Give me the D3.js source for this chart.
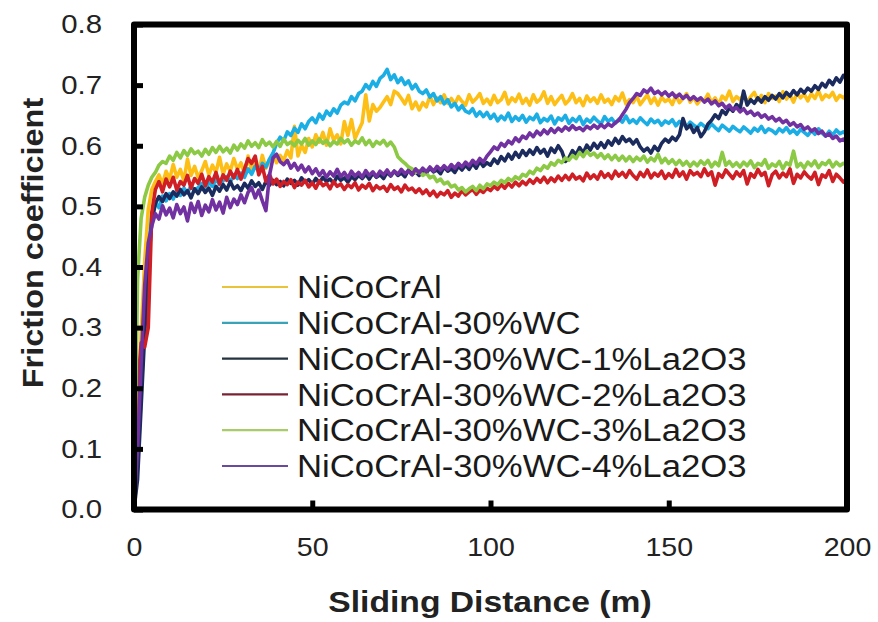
<!DOCTYPE html>
<html>
<head>
<meta charset="utf-8">
<script src="https://cdn.jsdelivr.net/npm/d3@7"></script>
<style>
  html, body { margin: 0; padding: 0; background: #fff; }
  svg { display: block; font-family: "Liberation Sans", Arial, sans-serif; }
</style>
</head>
<body>
<svg id="chart" width="878" height="622"></svg>
<script>
// Sliding distance (m), sampled every metre
const distance = [
  0,1,2,3,4,5,6,7,8,9,10,11,12,13,14,15,16,17,18,19,20,21,22,23,24,25,26,27,28,29,
  30,31,32,33,34,35,36,37,38,39,40,41,42,43,44,45,46,47,48,49,50,51,52,53,54,55,56,57,58,59,
  60,61,62,63,64,65,66,67,68,69,70,71,72,73,74,75,76,77,78,79,80,81,82,83,84,85,86,87,88,89,
  90,91,92,93,94,95,96,97,98,99,100,101,102,103,104,105,106,107,108,109,110,111,112,113,114,115,116,117,118,119,
  120,121,122,123,124,125,126,127,128,129,130,131,132,133,134,135,136,137,138,139,140,141,142,143,144,145,146,147,148,149,
  150,151,152,153,154,155,156,157,158,159,160,161,162,163,164,165,166,167,168,169,170,171,172,173,174,175,176,177,178,179,
  180,181,182,183,184,185,186,187,188,189,190,191,192,193,194,195,196,197,198,199,200
];

const seriesNames = [
  "NiCoCrAl",
  "NiCoCrAl-30%WC",
  "NiCoCrAl-30%WC-1%La2O3",
  "NiCoCrAl-30%WC-2%La2O3",
  "NiCoCrAl-30%WC-3%La2O3",
  "NiCoCrAl-30%WC-4%La2O3"
];
const seriesColors = ["#FDBE16", "#1BAEE5", "#1B2B5E", "#CF1F25", "#8CC944", "#7131A1"];
const legendColors = ["#EBC23C", "#3BA3B8", "#23333F", "#7A2232", "#A9CB6A", "#6A4A9C"];

// Friction coefficient per series
const muNiCoCrAl = [
  0.000,0.110,0.290,0.410,0.495,0.528,0.541,0.552,0.536,0.558,
  0.545,0.569,0.548,0.561,0.542,0.578,0.551,0.566,0.547,0.559,
  0.574,0.552,0.568,0.556,0.581,0.553,0.570,0.558,0.579,0.561,
  0.572,0.553,0.583,0.560,0.571,0.556,0.584,0.563,0.575,0.586,
  0.572,0.584,0.576,0.592,0.580,0.632,0.583,0.601,0.589,0.612,
  0.598,0.618,0.606,0.622,0.601,0.628,0.609,0.618,0.603,0.640,
  0.617,0.643,0.612,0.625,0.638,0.684,0.641,0.668,0.657,0.663,
  0.672,0.681,0.668,0.690,0.686,0.678,0.669,0.683,0.661,0.672,
  0.659,0.671,0.664,0.682,0.668,0.679,0.671,0.684,0.670,0.678,
  0.669,0.681,0.673,0.667,0.684,0.672,0.678,0.686,0.670,0.677,
  0.668,0.683,0.671,0.676,0.688,0.669,0.679,0.673,0.685,0.670,
  0.678,0.667,0.684,0.672,0.677,0.689,0.670,0.681,0.668,0.676,
  0.683,0.669,0.675,0.686,0.671,0.678,0.666,0.682,0.673,0.679,
  0.670,0.684,0.672,0.677,0.668,0.681,0.674,0.687,0.669,0.676,
  0.671,0.682,0.668,0.676,0.684,0.670,0.679,0.667,0.680,0.673,
  0.677,0.668,0.683,0.671,0.678,0.686,0.672,0.680,0.669,0.677,
  0.674,0.685,0.671,0.679,0.668,0.682,0.676,0.690,0.673,0.681,
  0.676,0.684,0.672,0.681,0.688,0.675,0.683,0.671,0.686,0.678,
  0.682,0.673,0.689,0.677,0.684,0.672,0.687,0.679,0.685,0.674,
  0.686,0.678,0.691,0.676,0.684,0.680,0.688,0.675,0.683,0.679,
  0.685
];
const muWC30 = [
  0.000,0.070,0.190,0.310,0.420,0.488,0.506,0.498,0.517,0.509,
  0.521,0.512,0.526,0.518,0.530,0.522,0.534,0.525,0.531,0.538,
  0.529,0.540,0.533,0.545,0.536,0.542,0.549,0.540,0.552,0.546,
  0.555,0.548,0.562,0.553,0.566,0.558,0.571,0.565,0.578,0.588,
  0.604,0.614,0.608,0.623,0.617,0.629,0.622,0.636,0.628,0.640,
  0.646,0.638,0.652,0.644,0.657,0.650,0.661,0.654,0.667,0.672,
  0.669,0.681,0.674,0.686,0.690,0.701,0.694,0.706,0.698,0.711,
  0.716,0.726,0.709,0.717,0.704,0.712,0.701,0.707,0.694,0.701,
  0.690,0.686,0.692,0.680,0.686,0.674,0.681,0.669,0.676,0.664,
  0.670,0.659,0.666,0.657,0.654,0.661,0.649,0.656,0.648,0.655,
  0.645,0.652,0.641,0.649,0.643,0.654,0.640,0.648,0.642,0.650,
  0.639,0.647,0.643,0.652,0.638,0.645,0.641,0.649,0.636,0.646,
  0.642,0.650,0.637,0.645,0.640,0.648,0.635,0.644,0.639,0.647,
  0.641,0.636,0.648,0.640,0.645,0.637,0.644,0.639,0.649,0.638,
  0.643,0.637,0.646,0.640,0.635,0.644,0.638,0.642,0.634,0.641,
  0.637,0.643,0.633,0.640,0.636,0.631,0.639,0.634,0.630,0.637,
  0.632,0.628,0.636,0.630,0.625,0.634,0.629,0.624,0.632,0.627,
  0.623,0.631,0.626,0.621,0.629,0.624,0.632,0.622,0.628,0.625,
  0.620,0.628,0.623,0.630,0.621,0.626,0.619,0.627,0.622,0.617,
  0.625,0.619,0.628,0.621,0.616,0.624,0.618,0.626,0.620,0.623,
  0.618
];
const muLa1 = [
  0.000,0.050,0.170,0.290,0.400,0.475,0.505,0.516,0.508,0.521,
  0.513,0.524,0.517,0.528,0.519,0.526,0.514,0.529,0.521,0.532,
  0.523,0.530,0.518,0.533,0.525,0.536,0.527,0.541,0.529,0.534,
  0.526,0.538,0.530,0.542,0.533,0.539,0.528,0.541,0.535,0.543,
  0.536,0.541,0.534,0.545,0.538,0.543,0.535,0.547,0.540,0.544,
  0.537,0.546,0.539,0.548,0.541,0.545,0.538,0.550,0.543,0.547,
  0.540,0.549,0.544,0.551,0.546,0.553,0.545,0.555,0.548,0.552,
  0.546,0.556,0.550,0.558,0.551,0.555,0.549,0.560,0.553,0.557,
  0.551,0.561,0.555,0.563,0.557,0.560,0.554,0.565,0.558,0.562,
  0.556,0.566,0.560,0.568,0.561,0.571,0.563,0.574,0.566,0.572,
  0.568,0.578,0.571,0.582,0.575,0.586,0.578,0.589,0.581,0.592,
  0.584,0.593,0.586,0.597,0.588,0.594,0.583,0.596,0.589,0.600,
  0.591,0.574,0.580,0.592,0.585,0.597,0.588,0.601,0.593,0.604,
  0.596,0.605,0.597,0.608,0.601,0.612,0.604,0.615,0.607,0.611,
  0.603,0.610,0.598,0.591,0.596,0.588,0.599,0.592,0.604,0.611,
  0.606,0.614,0.609,0.618,0.645,0.628,0.634,0.622,0.630,0.615,
  0.623,0.636,0.642,0.651,0.645,0.658,0.652,0.663,0.657,0.668,
  0.661,0.690,0.667,0.676,0.670,0.679,0.672,0.681,0.675,0.683,
  0.677,0.686,0.679,0.688,0.682,0.691,0.684,0.693,0.687,0.695,
  0.690,0.699,0.693,0.703,0.697,0.708,0.701,0.712,0.705,0.716,
  0.712
];
const muLa2 = [
  0.000,0.200,0.275,0.268,0.300,0.490,0.528,0.541,0.524,0.545,
  0.532,0.548,0.527,0.541,0.535,0.551,0.530,0.546,0.538,0.553,
  0.534,0.549,0.540,0.556,0.537,0.552,0.543,0.558,0.547,0.561,
  0.545,0.562,0.579,0.571,0.583,0.552,0.566,0.541,0.553,0.537,
  0.545,0.533,0.541,0.536,0.544,0.531,0.540,0.535,0.543,0.532,
  0.539,0.530,0.542,0.534,0.538,0.529,0.541,0.533,0.537,0.528,
  0.536,0.531,0.539,0.527,0.535,0.530,0.538,0.526,0.534,0.529,
  0.533,0.525,0.536,0.528,0.532,0.524,0.535,0.527,0.530,0.523,
  0.529,0.521,0.527,0.518,0.525,0.516,0.523,0.519,0.526,0.515,
  0.522,0.517,0.526,0.519,0.524,0.528,0.520,0.527,0.523,0.530,
  0.526,0.533,0.528,0.536,0.530,0.538,0.532,0.540,0.534,0.541,
  0.536,0.544,0.538,0.546,0.540,0.548,0.539,0.547,0.541,0.550,
  0.543,0.551,0.544,0.553,0.545,0.549,0.542,0.555,0.546,0.552,
  0.545,0.557,0.548,0.554,0.546,0.558,0.550,0.556,0.548,0.559,
  0.551,0.545,0.556,0.549,0.560,0.547,0.555,0.550,0.558,0.546,
  0.554,0.548,0.561,0.550,0.557,0.545,0.559,0.552,0.556,0.549,
  0.562,0.551,0.557,0.535,0.554,0.548,0.560,0.553,0.546,0.557,
  0.550,0.559,0.537,0.554,0.548,0.561,0.551,0.556,0.534,0.552,
  0.558,0.547,0.555,0.549,0.562,0.538,0.553,0.547,0.557,0.550,
  0.545,0.556,0.536,0.552,0.548,0.559,0.541,0.553,0.547,0.540,
  0.546
];
const muLa3 = [
  0.000,0.380,0.480,0.515,0.535,0.548,0.556,0.568,0.574,0.571,
  0.583,0.576,0.589,0.580,0.592,0.584,0.595,0.587,0.591,0.583,
  0.594,0.586,0.597,0.589,0.599,0.590,0.596,0.588,0.601,0.593,
  0.603,0.596,0.608,0.599,0.605,0.597,0.610,0.601,0.606,0.598,
  0.607,0.599,0.611,0.602,0.606,0.600,0.609,0.603,0.612,0.601,
  0.608,0.602,0.611,0.604,0.609,0.600,0.607,0.603,0.612,0.605,
  0.610,0.601,0.608,0.604,0.613,0.602,0.609,0.599,0.607,0.603,
  0.609,0.600,0.606,0.598,0.582,0.576,0.571,0.565,0.562,0.556,
  0.559,0.551,0.555,0.547,0.550,0.541,0.545,0.537,0.540,0.532,
  0.535,0.527,0.531,0.524,0.529,0.533,0.526,0.535,0.529,0.537,
  0.534,0.540,0.536,0.543,0.539,0.546,0.542,0.549,0.545,0.553,
  0.550,0.558,0.554,0.563,0.559,0.567,0.563,0.572,0.568,0.576,
  0.572,0.580,0.576,0.584,0.579,0.589,0.582,0.591,0.584,0.588,
  0.581,0.587,0.579,0.585,0.577,0.584,0.576,0.583,0.575,0.582,
  0.574,0.581,0.576,0.583,0.573,0.580,0.575,0.586,0.572,0.579,
  0.571,0.577,0.569,0.576,0.568,0.574,0.566,0.573,0.567,0.575,
  0.569,0.576,0.565,0.573,0.567,0.589,0.568,0.574,0.566,0.572,
  0.565,0.573,0.567,0.575,0.564,0.571,0.568,0.577,0.563,0.570,
  0.566,0.574,0.562,0.572,0.568,0.591,0.565,0.571,0.563,0.573,
  0.567,0.575,0.564,0.572,0.569,0.576,0.565,0.573,0.567,0.571,
  0.568
];
const muLa4 = [
  0.000,0.100,0.240,0.370,0.440,0.468,0.488,0.479,0.501,0.486,
  0.497,0.481,0.503,0.488,0.499,0.476,0.505,0.490,0.508,0.485,
  0.502,0.491,0.511,0.494,0.507,0.489,0.515,0.498,0.512,0.503,
  0.519,0.506,0.523,0.531,0.514,0.527,0.509,0.493,0.551,0.580,
  0.586,0.574,0.569,0.576,0.563,0.571,0.560,0.568,0.557,0.565,
  0.554,0.562,0.551,0.559,0.548,0.557,0.550,0.561,0.549,0.556,
  0.547,0.558,0.550,0.556,0.548,0.559,0.551,0.557,0.549,0.558,
  0.552,0.560,0.551,0.558,0.553,0.561,0.554,0.559,0.552,0.562,
  0.555,0.563,0.557,0.565,0.558,0.566,0.560,0.567,0.561,0.569,
  0.563,0.571,0.565,0.573,0.567,0.576,0.570,0.579,0.573,0.583,
  0.590,0.598,0.594,0.604,0.599,0.608,0.603,0.613,0.607,0.616,
  0.612,0.621,0.615,0.624,0.618,0.626,0.620,0.628,0.622,0.629,
  0.624,0.631,0.626,0.633,0.627,0.630,0.625,0.632,0.628,0.634,
  0.629,0.635,0.630,0.636,0.632,0.638,0.642,0.651,0.660,0.671,
  0.678,0.686,0.683,0.692,0.688,0.695,0.686,0.690,0.684,0.689,
  0.682,0.687,0.680,0.685,0.678,0.683,0.676,0.681,0.675,0.679,
  0.672,0.677,0.669,0.674,0.666,0.670,0.662,0.667,0.659,0.663,
  0.656,0.661,0.653,0.657,0.650,0.654,0.647,0.651,0.644,0.648,
  0.641,0.645,0.638,0.642,0.634,0.638,0.631,0.635,0.627,0.631,
  0.624,0.628,0.620,0.624,0.616,0.620,0.612,0.616,0.608,0.611,
  0.604
];
const seriesValues = [muNiCoCrAl, muWC30, muLa1, muLa2, muLa3, muLa4];

const yTicks = [0, 0.1, 0.2, 0.3, 0.4, 0.5, 0.6, 0.7, 0.8];
const xTicks = [0, 50, 100, 150, 200];

const svg = d3.select("#chart");
const plot = { left: 134, right: 847, top: 24.5, bottom: 509.5 };

const x = d3.scaleLinear().domain([0, 200]).range([plot.left, plot.right]);
const y = d3.scaleLinear().domain([0, 0.8]).range([plot.bottom, plot.top]);

// widen text glyphs horizontally by a factor
function widen(sel, factor) {
  sel.each(function () {
    const w = this.getComputedTextLength();
    d3.select(this).attr("textLength", w * factor).attr("lengthAdjust", "spacingAndGlyphs");
  });
}

// series traces
const line = d3.line()
  .x((d, i) => x(distance[i]))
  .y(d => y(d));

svg.append("g").selectAll("path")
  .data(seriesValues)
  .join("path")
  .attr("d", line)
  .attr("fill", "none")
  .attr("stroke", (d, i) => seriesColors[i])
  .attr("stroke-width", 3.6)
  .attr("stroke-linejoin", "round");

// legend
const legend = svg.append("g");
seriesNames.forEach((name, i) => {
  const cy = 287 + i * 35.8;
  legend.append("line")
    .attr("x1", 222).attr("x2", 288)
    .attr("y1", cy).attr("y2", cy)
    .attr("stroke", legendColors[i])
    .attr("stroke-width", 2.2);
  legend.append("text")
    .attr("x", 297).attr("y", cy)
    .attr("dy", "0.36em")
    .attr("font-size", 31)
    .attr("fill", "#1a1a1a")
    .text(name);
});
widen(legend.selectAll("text"), 1.12);

// frame
svg.append("rect")
  .attr("x", plot.left).attr("y", plot.top)
  .attr("width", plot.right - plot.left)
  .attr("height", plot.bottom - plot.top)
  .attr("fill", "none")
  .attr("stroke", "#000")
  .attr("stroke-width", 6)
  .attr("stroke-linejoin", "round");

// y axis: inward ticks
const yAxis = svg.append("g")
  .attr("transform", `translate(${plot.left},0)`)
  .call(d3.axisLeft(y).tickValues(yTicks).tickFormat(d3.format(".1f")).tickSize(-9).tickPadding(32));
yAxis.select(".domain").remove();
yAxis.selectAll(".tick line").attr("stroke", "#000").attr("stroke-width", 5);
yAxis.selectAll(".tick text")
  .attr("font-size", 26).attr("font-family", "Liberation Sans, Arial, sans-serif")
  .attr("fill", "#222");
widen(yAxis.selectAll(".tick text"), 1.13);

// x axis: inward ticks
const xAxis = svg.append("g")
  .attr("transform", `translate(0,${plot.bottom})`)
  .call(d3.axisBottom(x).tickValues(xTicks).tickFormat(d3.format("d")).tickSize(-9).tickPadding(28));
xAxis.select(".domain").remove();
xAxis.selectAll(".tick line").attr("stroke", "#000").attr("stroke-width", 5);
xAxis.selectAll(".tick text")
  .attr("font-size", 26).attr("font-family", "Liberation Sans, Arial, sans-serif")
  .attr("fill", "#222");
widen(xAxis.selectAll(".tick text"), 1.1);

// axis titles
const xTitle = svg.append("text")
  .attr("x", 490).attr("y", 612)
  .attr("text-anchor", "middle")
  .attr("font-size", 29).attr("font-weight", "bold")
  .attr("fill", "#222")
  .text("Sliding Distance (m)");
widen(xTitle, 1.16);

const yTitle = svg.append("text")
  .attr("transform", "translate(43,243) rotate(-90)")
  .attr("text-anchor", "middle")
  .attr("font-size", 29).attr("font-weight", "bold")
  .attr("fill", "#222")
  .text("Friction coefficient");
widen(yTitle, 1.12);
</script>
</body>
</html>
